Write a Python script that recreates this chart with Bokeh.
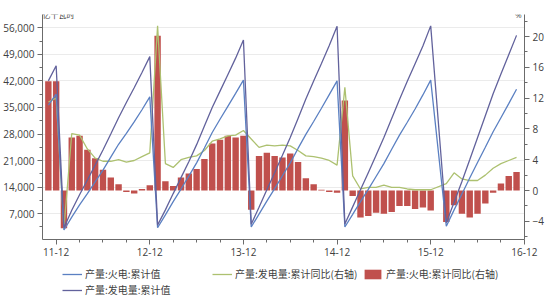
from bokeh.plotting import figure
from bokeh.layouts import column
from bokeh.models import (Range1d, LinearAxis, FixedTicker, Legend, LegendItem,
                          Label, ColumnDataSource)
from bokeh.embed import file_html
from bokeh.resources import INLINE

# ---------------- data ----------------
# months: Nov 2011 .. Nov 2016 (Jan 2016 is missing in the source)
months = (["2011-11", "2011-12"]
          + [f"{y}-{m:02d}" for y in (2012, 2013, 2014, 2015) for m in range(1, 13)]
          + [f"2016-{m:02d}" for m in range(2, 12)])

# 产量:发电量:累计值 (亿千瓦时, left axis)
gen_total = [42000, 46000,
             3300, 7900, 12000, 15900, 19800, 23800, 28000, 32300, 36300, 40200, 44200, 48400,
             4000, 8000, 12300, 16500, 20700, 25200, 30100, 35000, 39300, 43600, 48000, 52800,
             4200, 8700, 13300, 17800, 22400, 27100, 32100, 37200, 42000, 46600, 51300, 56400,
             4300, 8800, 13300, 17800, 22400, 27100, 32100, 37100, 41900, 46500, 51200, 56500,
             4600, 10000, 15500, 21200, 27000, 32800, 38600, 43800, 48900, 54000]

# 产量:火电:累计值 (亿千瓦时, left axis)
thermal_total = [35600, 38500,
                 2700, 6100, 9300, 12300, 15400, 18500, 21900, 25300, 28200, 31200, 34400, 37800,
                 3300, 6700, 10200, 13500, 16900, 20400, 24300, 28400, 31900, 35300, 38700, 42200,
                 3500, 6900, 10300, 13600, 17000, 20400, 24200, 27900, 31300, 34800, 38400, 42000,
                 3500, 6800, 10200, 13400, 16800, 20200, 24000, 27700, 31100, 34600, 38300, 42200,
                 3700, 8000, 12200, 16400, 20500, 24500, 28600, 32300, 36000, 39800]

# 产量:发电量:累计同比 (%, right axis)
gen_yoy = [11.5, 12.0,
           -4.9, 7.4, 7.2, 5.4, 4.2, 3.8, 3.8, 4.0, 3.7, 3.9, 4.4, 4.9,
           21.4, 3.5, 3.0, 4.0, 4.3, 4.5, 5.2, 6.4, 6.7, 7.1, 7.2, 7.8,
           6.7, 5.6, 5.9, 5.8, 5.9, 5.8, 5.2, 4.5, 4.4, 4.2, 3.9, 3.3,
           13.4, 1.9, 0.2, 0.4, 0.4, 0.7, 0.4, 0.4, 0.2, 0.1, 0.1, 0.1,
           0.9, 2.3, 1.5, 1.3, 1.3, 2.0, 2.9, 3.5, 3.9, 4.3]

# 产量:火电:累计同比 (%, right axis, bars)
thermal_yoy = [14.2, 14.2,
               -4.9, 6.9, 7.1, 5.3, 4.2, 2.7, 1.7, 0.8, -0.2, -0.4, 0.2, 0.7,
               20.1, 1.2, 0.6, 1.7, 2.2, 2.8, 4.1, 6.1, 6.6, 7.1, 6.9, 7.1,
               -2.5, 4.5, 4.9, 4.5, 4.3, 4.8, 3.7, 1.6, 0.8, 0.1, -0.2, -0.3,
               11.7, -0.7, -3.5, -3.3, -2.9, -3.0, -2.8, -2.0, -2.0, -2.4, -2.2, -2.6,
               -4.1, -1.9, -3.0, -3.5, -3.0, -1.7, -0.3, 0.9, 1.9, 2.4]

tick_months = ["2011-12", "2012-12", "2013-12", "2014-12", "2015-12", "2016-12"]
tick_labels = ["11-12", "12-12", "13-12", "14-12", "15-12", "16-12"]

left_ticks = [7000, 14000, 21000, 28000, 35000, 42000, 49000, 56000]
right_ticks = [-4, 0, 4, 8, 12, 16, 20]

series_names = ["产量:火电:累计值", "产量:发电量:累计同比(右轴)",
                "产量:火电:累计同比(右轴)", "产量:发电量:累计值"]

BAR_C = "#C0504D"
GREEN = "#ADC170"
BLUE = "#5B80C2"
PURPLE = "#62629C"


def month_index(s):
    y, m = s.split("-")
    return (int(y) - 2011) * 12 + int(m) - 12   # Dec 2011 -> 0


x = [month_index(s) for s in months]
src = ColumnDataSource(dict(x=x, gen_total=gen_total, thermal_total=thermal_total,
                            gen_yoy=gen_yoy, thermal_yoy=thermal_yoy))

# ---------------- main figure ----------------
FONT = "Open Sans"
CJK = "Noto Sans CJK SC"
TXT = "#404040"
AX = "#6b6b6b"
BL, BR = 40, 26

p = figure(width=550, height=262, output_backend="svg", toolbar_location=None,
           x_range=Range1d(-1.75, 60.02), y_range=Range1d(200, 59500),
           min_border_left=BL, min_border_right=BR, min_border_top=14, min_border_bottom=23,
           background_fill_color="white", border_fill_color="white")
p.outline_line_color = None
p.extra_y_ranges = {"right": Range1d(-6.36, 22.86)}

bars = p.vbar(x="x", top="thermal_yoy", bottom=0, width=0.82, source=src,
              y_range_name="right", fill_color=BAR_C, line_color=None)
l_yoy = p.line("x", "gen_yoy", source=src, y_range_name="right",
               line_color=GREEN, line_width=1.3)
l_thermal = p.line("x", "thermal_total", source=src, line_color=BLUE, line_width=1.3)
l_total = p.line("x", "gen_total", source=src, line_color=PURPLE, line_width=1.3)

# axes
xt = [month_index(s) for s in tick_months]
p.xaxis.ticker = FixedTicker(ticks=xt, minor_ticks=[v for v in range(3, 60, 3) if v not in xt])
p.xaxis.major_label_overrides = {t: lab for t, lab in zip(xt, tick_labels)}

p.yaxis.ticker = FixedTicker(ticks=left_ticks, minor_ticks=[3500 * k for k in range(1, 17, 2)])
p.yaxis.major_label_overrides = {v: f"{v:,}" for v in left_ticks}

ra = LinearAxis(y_range_name="right",
                ticker=FixedTicker(ticks=right_ticks, minor_ticks=[-6, -2, 2, 6, 10, 14, 18, 22]))
p.add_layout(ra, "right")

for ax in [p.xaxis[0], p.yaxis[0], ra]:
    ax.axis_line_color = AX
    ax.major_tick_line_color = AX
    ax.minor_tick_line_color = AX
    ax.major_tick_out = 5
    ax.major_tick_in = 0
    ax.minor_tick_out = 3
    ax.minor_tick_in = 0
    ax.major_label_text_font = FONT
    ax.major_label_text_font_size = "10px"
    ax.major_label_text_color = TXT
    ax.major_label_standoff = 3

p.xgrid.grid_line_color = None
p.ygrid.ticker = FixedTicker(ticks=left_ticks)
p.ygrid.grid_line_color = "#ebebeb"

# axis unit titles
p.add_layout(Label(x=-1.75, y=59500, text="亿千瓦时", text_font=CJK, text_font_size="8px",
                   text_color=TXT, text_align="left", text_baseline="middle", x_offset=0))
p.add_layout(Label(x=60.02, y=22.86, y_range_name="right", text="%", text_font=FONT,
                   text_font_size="8px", text_color=TXT, text_align="right",
                   text_baseline="middle", x_offset=-3))

# ---------------- legend strip (separate figure below, frame aligned with p) ----------------
lg = figure(width=550, height=38, output_backend="svg", toolbar_location=None,
            min_border_left=BL, min_border_right=BR, min_border_top=0, min_border_bottom=0,
            background_fill_color="white", border_fill_color="white")
lg.outline_line_color = None
lg.axis.visible = False
lg.grid.visible = False
# legend-only proxies: one NaN row so the legend can draw a swatch, nothing in the frame
nan = float("nan")
proxy = ColumnDataSource(dict(x=[nan], y=[nan], top=[nan]))
g_thermal = lg.line("x", "y", source=proxy, line_color=BLUE, line_width=1.3)
g_yoy = lg.line("x", "y", source=proxy, line_color=GREEN, line_width=1.3)
g_bar = lg.vbar(x="x", top="top", width=1, source=proxy, fill_color=BAR_C, line_color=None)
g_total = lg.line("x", "y", source=proxy, line_color=PURPLE, line_width=1.3)


def add_legend(r, label, fx, fy, gw):
    leg = Legend(items=[LegendItem(label=label, renderers=[r])], location=(fx, fy),
                 orientation="horizontal", margin=0, padding=0, spacing=0,
                 glyph_width=gw, glyph_height=12, label_height=14, label_standoff=3,
                 label_text_font=CJK, label_text_font_size="10px", label_text_color=TXT,
                 border_line_color=None, background_fill_alpha=0)
    lg.add_layout(leg)


add_legend(g_thermal, series_names[0], 60 - BL, 19, 20)
add_legend(g_yoy, series_names[1], 210 - BL, 19, 20)
add_legend(g_bar, series_names[2], 360 - BL, 19, 21)
add_legend(g_total, series_names[3], 60 - BL, 3, 20)

open("out.html", "w").write(file_html(column(p, lg, spacing=0), INLINE))
